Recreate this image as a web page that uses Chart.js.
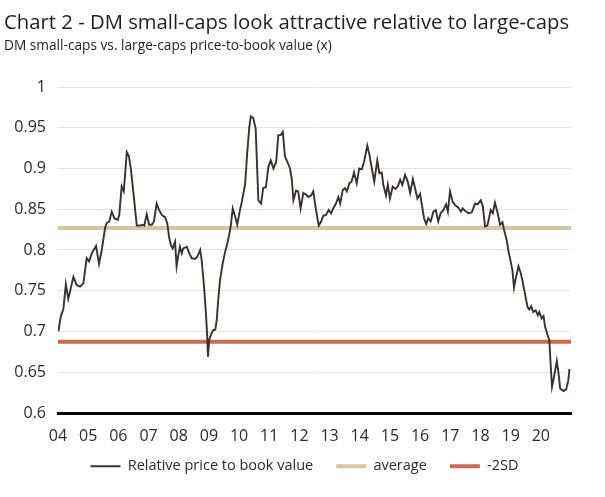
<!DOCTYPE html>
<html>
<head>
<meta charset="utf-8">
<script src="https://cdn.jsdelivr.net/npm/chart.js@4.4.0/dist/chart.umd.min.js"></script>
<style>
  html, body { margin: 0; padding: 0; background: #ffffff; }
  #wrap { width: 605px; height: 497px; }
</style>
</head>
<body>
<div id="wrap"><canvas id="chart" width="605" height="497"></canvas></div>
<script>
// ---- Data ----
const dates = [
  2004.01, 2004.09, 2004.18, 2004.26, 2004.34, 2004.51, 2004.62, 2004.73, 2004.84, 2004.95,
  2005.03, 2005.12, 2005.26, 2005.36, 2005.45, 2005.56, 2005.61, 2005.70, 2005.78, 2005.87,
  2005.98, 2006.03, 2006.11, 2006.18, 2006.28, 2006.35, 2006.42, 2006.50, 2006.61, 2006.72,
  2006.81, 2006.86, 2006.94, 2007.02, 2007.11, 2007.18, 2007.27, 2007.35, 2007.44, 2007.55,
  2007.62, 2007.68, 2007.74, 2007.80, 2007.88, 2007.93, 2007.99, 2008.04, 2008.10, 2008.15,
  2008.27, 2008.35, 2008.43, 2008.54, 2008.62, 2008.71, 2008.76, 2008.84, 2008.91, 2008.95,
  2008.97, 2009.01, 2009.09, 2009.15, 2009.21, 2009.26, 2009.31, 2009.37, 2009.46, 2009.54,
  2009.61, 2009.68, 2009.73, 2009.79, 2009.87, 2009.94, 2010.03, 2010.09, 2010.20, 2010.27,
  2010.34, 2010.39, 2010.47, 2010.55, 2010.59, 2010.64, 2010.73, 2010.80, 2010.89, 2010.97,
  2011.05, 2011.14, 2011.23, 2011.30, 2011.38, 2011.45, 2011.52, 2011.60, 2011.69, 2011.75,
  2011.80, 2011.89, 2011.96, 2012.04, 2012.13, 2012.22, 2012.30, 2012.39, 2012.46, 2012.55,
  2012.64, 2012.72, 2012.79, 2012.88, 2012.97, 2013.05, 2013.12, 2013.21, 2013.29, 2013.35,
  2013.44, 2013.51, 2013.57, 2013.66, 2013.73, 2013.81, 2013.90, 2013.98, 2014.07, 2014.14,
  2014.25, 2014.32, 2014.40, 2014.48, 2014.58, 2014.65, 2014.73, 2014.78, 2014.87, 2014.93,
  2015.00, 2015.09, 2015.18, 2015.26, 2015.34, 2015.41, 2015.50, 2015.59, 2015.67, 2015.76,
  2015.83, 2015.91, 2016.00, 2016.06, 2016.13, 2016.20, 2016.27, 2016.35, 2016.44, 2016.52,
  2016.60, 2016.68, 2016.77, 2016.86, 2016.92, 2016.99, 2017.08, 2017.16, 2017.27, 2017.35,
  2017.41, 2017.49, 2017.60, 2017.71, 2017.82, 2017.90, 2018.01, 2018.08, 2018.15, 2018.23,
  2018.34, 2018.41, 2018.48, 2018.56, 2018.65, 2018.73, 2018.78, 2018.87, 2018.93, 2019.00,
  2019.06, 2019.11, 2019.18, 2019.26, 2019.34, 2019.40, 2019.48, 2019.56, 2019.62, 2019.68,
  2019.75, 2019.83, 2019.90, 2019.95, 2020.03, 2020.09, 2020.14, 2020.22, 2020.28, 2020.33,
  2020.37, 2020.44, 2020.53, 2020.60, 2020.64, 2020.75, 2020.84, 2020.91, 2020.95
];
const relativePB = [
  0.700, 0.718, 0.728, 0.758, 0.740, 0.767, 0.757, 0.755, 0.759, 0.790,
  0.786, 0.796, 0.805, 0.783, 0.800, 0.827, 0.833, 0.835, 0.847, 0.839,
  0.837, 0.843, 0.878, 0.872, 0.920, 0.915, 0.898, 0.870, 0.830, 0.830,
  0.831, 0.830, 0.844, 0.831, 0.831, 0.835, 0.857, 0.849, 0.843, 0.840,
  0.833, 0.816, 0.806, 0.802, 0.810, 0.780, 0.794, 0.804, 0.796, 0.802,
  0.804, 0.796, 0.790, 0.789, 0.792, 0.800, 0.788, 0.755, 0.718, 0.690,
  0.669, 0.690, 0.698, 0.702, 0.702, 0.714, 0.739, 0.763, 0.784, 0.798,
  0.808, 0.820, 0.831, 0.851, 0.841, 0.831, 0.849, 0.859, 0.880, 0.919,
  0.951, 0.964, 0.962, 0.949, 0.910, 0.861, 0.857, 0.876, 0.877, 0.902,
  0.910, 0.900, 0.908, 0.941, 0.941, 0.945, 0.915, 0.908, 0.900, 0.886,
  0.861, 0.873, 0.872, 0.851, 0.870, 0.868, 0.865, 0.867, 0.872, 0.849,
  0.830, 0.835, 0.842, 0.843, 0.849, 0.845, 0.851, 0.857, 0.865, 0.857,
  0.874, 0.876, 0.872, 0.882, 0.884, 0.895, 0.882, 0.900, 0.899, 0.908,
  0.928, 0.917, 0.900, 0.884, 0.910, 0.894, 0.895, 0.880, 0.867, 0.880,
  0.863, 0.878, 0.875, 0.878, 0.886, 0.880, 0.892, 0.884, 0.870, 0.887,
  0.876, 0.863, 0.869, 0.855, 0.839, 0.832, 0.839, 0.835, 0.847, 0.849,
  0.835, 0.845, 0.849, 0.856, 0.847, 0.872, 0.859, 0.855, 0.852, 0.847,
  0.851, 0.848, 0.845, 0.846, 0.857, 0.856, 0.861, 0.853, 0.829, 0.830,
  0.849, 0.845, 0.858, 0.847, 0.831, 0.834, 0.825, 0.812, 0.798, 0.786,
  0.775, 0.754, 0.767, 0.780, 0.771, 0.761, 0.745, 0.730, 0.727, 0.731,
  0.724, 0.726, 0.720, 0.724, 0.716, 0.719, 0.706, 0.696, 0.690, 0.657,
  0.632, 0.645, 0.664, 0.645, 0.630, 0.627, 0.629, 0.640, 0.654
];
const averageLevel = 0.827;
const minus2SDLevel = 0.6875;
const xStart = 2004;
const xEnd = 2021;
const xTickYears = [2004, 2005, 2006, 2007, 2008, 2009, 2010, 2011, 2012, 2013, 2014, 2015, 2016, 2017, 2018, 2019, 2020];
const xTickLabels = ['04', '05', '06', '07', '08', '09', '10', '11', '12', '13', '14', '15', '16', '17', '18', '19', '20'];
const yTickValues = [0.6, 0.65, 0.7, 0.75, 0.8, 0.85, 0.9, 0.95, 1];
const yTickLabels = ['0.6', '0.65', '0.7', '0.75', '0.8', '0.85', '0.9', '0.95', '1'];
const seriesNames = ['Relative price to book value', 'average', '-2SD'];

// ---- Chart ----
const FONT = "'Open Sans', 'DejaVu Sans', sans-serif";
const TEXT = '#2b2b2b';

const mainPoints = dates.map((d, i) => ({ x: d, y: relativePB[i] }));

// moves the legend row up a little (its padding also sets the horizontal spacing)
const legendShift = {
  id: 'legendShift',
  afterLayout(chart) {
    if (chart.legend) {
      chart.legend.top -= 13;
      chart.legend.bottom -= 13;
    }
  }
};

new Chart(document.getElementById('chart'), {
  type: 'line',
  plugins: [legendShift],
  data: {
    datasets: [
      {
        label: seriesNames[0],
        data: mainPoints,
        borderColor: '#3a312d',
        backgroundColor: '#3a312d',
        borderWidth: 1.9,
        pointRadius: 0,
        tension: 0,
        pointStyle: 'line'
      },
      {
        label: seriesNames[1],
        data: [{ x: xStart, y: averageLevel }, { x: xEnd, y: averageLevel }],
        borderColor: '#d6c6a6',
        backgroundColor: '#d6c6a6',
        borderWidth: 4,
        pointRadius: 0,
        pointStyle: 'line'
      },
      {
        label: seriesNames[2],
        data: [{ x: xStart, y: minus2SDLevel }, { x: xEnd, y: minus2SDLevel }],
        borderColor: '#c96b50',
        backgroundColor: '#c96b50',
        borderWidth: 4,
        pointRadius: 0,
        pointStyle: 'line'
      }
    ]
  },
  options: {
    responsive: false,
    animation: false,
    devicePixelRatio: 1,
    events: [],
    layout: { padding: { left: 4, right: 0, top: 0, bottom: 0.5 } },
    plugins: {
      title: {
        display: true,
        text: 'Chart 2 - DM small-caps look attractive relative to large-caps',
        align: 'start',
        color: '#1e1e1e',
        font: { family: FONT, size: 20.3, weight: 'normal' },
        padding: { top: 10.8, bottom: 0 }
      },
      subtitle: {
        display: true,
        text: 'DM small-caps vs. large-caps price-to-book value (x)',
        align: 'start',
        color: '#1e1e1e',
        font: { family: FONT, size: 13.7, weight: 'normal' },
        padding: { top: 3, bottom: 32.4 }
      },
      legend: {
        position: 'bottom',
        labels: {
          usePointStyle: true,
          pointStyle: 'line',
          pointStyleWidth: 30,
          color: TEXT,
          font: { family: FONT, size: 14.5 },
          padding: 23
        }
      },
      tooltip: { enabled: false }
    },
    scales: {
      x: {
        type: 'linear',
        min: xStart,
        max: xEnd,
        afterBuildTicks: (scale) => { scale.ticks = xTickYears.map(v => ({ value: v })); },
        afterFit: (scale) => { scale.height = 36; },
        ticks: {
          autoSkip: false,
          maxRotation: 0,
          padding: 14,
          color: TEXT,
          font: { family: FONT, size: 16 },
          callback: (value, index) => xTickLabels[index]
        },
        grid: { display: false, drawTicks: false },
        border: { display: true, color: '#000000', width: 3 }
      },
      y: {
        type: 'linear',
        min: 0.6,
        max: 1,
        afterBuildTicks: (scale) => { scale.ticks = yTickValues.map(v => ({ value: v })); },
        afterFit: (scale) => { scale.width = 54; },
        ticks: {
          padding: 12,
          color: TEXT,
          font: { family: FONT, size: 16 },
          callback: (value, index) => yTickLabels[index]
        },
        grid: {
          drawTicks: false,
          lineWidth: 1,
          color: (ctx) => (ctx.tick && ctx.tick.value === 0.6) ? 'rgba(0,0,0,0)' : '#e4e4e4'
        },
        border: { display: false }
      },
      yRightSpace: {
        type: 'linear',
        position: 'right',
        display: true,
        afterFit: (scale) => { scale.width = 34; },
        ticks: { display: false },
        grid: { display: false, drawTicks: false },
        border: { display: false }
      }
    }
  }
});
</script>
</body>
</html>
